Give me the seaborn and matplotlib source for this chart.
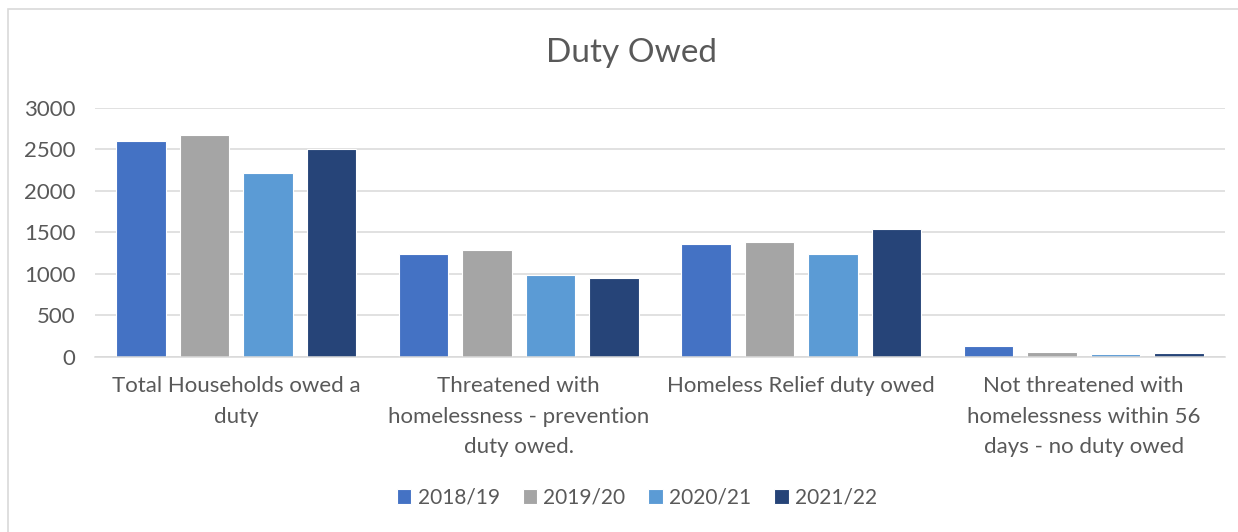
import matplotlib
matplotlib.use("Agg")
import matplotlib.pyplot as plt
import seaborn as sns
import pandas as pd
from matplotlib.patches import Rectangle

categories = [
    "Total Households owed a\nduty",
    "Threatened with\nhomelessness - prevention\nduty owed.",
    "Homeless Relief duty owed",
    "Not threatened with\nhomelessness within 56\ndays - no duty owed",
]
years = ["2018/19", "2019/20", "2020/21", "2021/22"]
v2018 = [2605, 1238, 1365, 129]
v2019 = [2678, 1292, 1382, 56]
v2020 = [2218, 986, 1238, 40]
v2021 = [2508, 950, 1542, 48]
colors = ["#4472C4", "#A5A5A5", "#5B9BD5", "#264478"]

rows = []
for yr, vals in zip(years, [v2018, v2019, v2020, v2021]):
    for c, v in zip(categories, vals):
        rows.append({"category": c, "year": yr, "value": v})
df = pd.DataFrame(rows)

sns.set_theme(style="white")
plt.rcParams["font.family"] = ["Lato", "DejaVu Sans"]
text_color = "#595959"

fig = plt.figure(figsize=(12.38, 5.32), dpi=100)
ax = fig.add_axes([0.0767, 0.329, 0.9128, 0.468])

sns.barplot(data=df, x="category", y="value", hue="year", order=categories,
            hue_order=years, palette=colors, saturation=1, width=0.90, gap=0.22,
            edgecolor="white", linewidth=0.8, ax=ax, legend=True)

ax.set_ylim(0, 3000)
ax.set_xlim(-0.5, 3.5)
ax.set_yticks(range(0, 3001, 500))
ax.yaxis.grid(True, color="#D9D9D9", linewidth=1.1)
ax.set_axisbelow(True)
for s in ["left", "right", "top"]:
    ax.spines[s].set_visible(False)
ax.spines["bottom"].set_color("#D9D9D9")
ax.spines["bottom"].set_linewidth(1.1)
ax.set_xlabel("")
ax.set_ylabel("")
ax.tick_params(axis="y", length=0, pad=14, labelsize=16, labelcolor=text_color)
ax.tick_params(axis="x", length=0, pad=14, labelsize=16, labelcolor=text_color)
for lbl in ax.get_xticklabels():
    lbl.set_linespacing(1.65)
    lbl.set_verticalalignment("top")

fig.text(632 / 1238, 1 - 53 / 532, "Duty Owed", fontsize=24, color=text_color,
         ha="center", va="center")

handles, labels = ax.get_legend_handles_labels()
ax.legend(handles, labels, loc="center", bbox_to_anchor=(637 / 1238, 1 - 498 / 532),
          bbox_transform=fig.transFigure, ncol=4, frameon=False,
          fontsize=15, labelcolor=text_color, handlelength=0.7,
          handleheight=0.7, handletextpad=0.3, columnspacing=1.1)

fig.patches.append(Rectangle((8 / 1238, -0.05), 1.2, 1 - 9 / 532 + 0.05,
                             transform=fig.transFigure, fill=False,
                             edgecolor="#D9D9D9", linewidth=1.2))

fig.savefig("out.png", dpi=100)
